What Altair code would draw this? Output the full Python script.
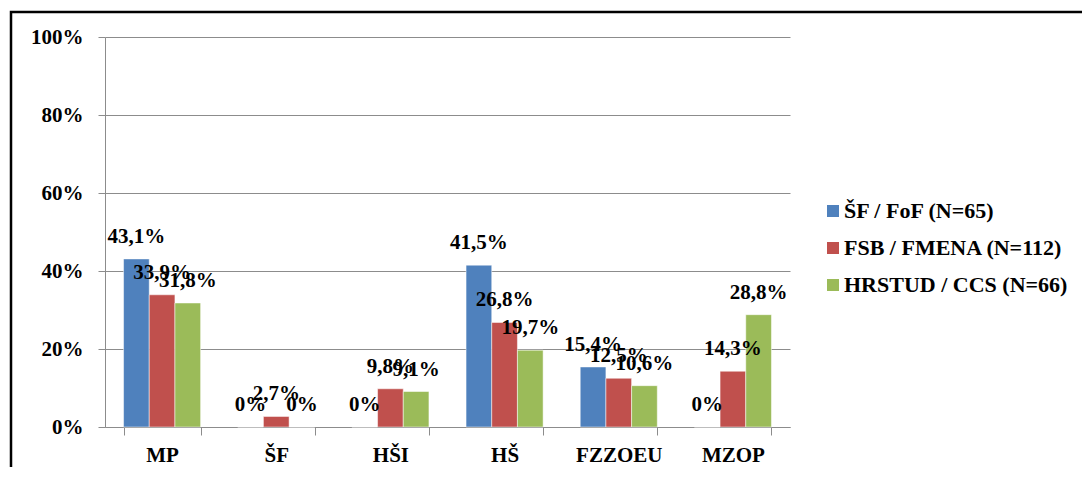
import altair as alt
import pandas as pd

categories = ["MP", "ŠF", "HŠI", "HŠ", "FZZOEU", "MZOP"]
series = ["ŠF / FoF (N=65)", "FSB / FMENA (N=112)", "HRSTUD / CCS (N=66)"]
sf_fof = [43.1, 0, 0, 41.5, 15.4, 0]
fsb_fmena = [33.9, 2.7, 9.8, 26.8, 12.5, 14.3]
hrstud_ccs = [31.8, 0, 9.1, 19.7, 10.6, 28.8]
colors = ["#4F81BD", "#C0504D", "#9BBB59"]
y_ticks = [0, 20, 40, 60, 80, 100]

rows = []
for s, vals in zip(series, [sf_fof, fsb_fmena, hrstud_ccs]):
    for c, v in zip(categories, vals):
        lab = "0%" if v == 0 else f"{v:.1f}".replace(".", ",") + "%"
        rows.append({"cat": c, "series": s, "value": v, "label": lab})
df = pd.DataFrame(rows)

FONT = "Liberation Serif"

x_enc = alt.X("cat:N", sort=categories, title=None,
              scale=alt.Scale(paddingInner=0.325, paddingOuter=0.1625),
              axis=alt.Axis(labelAngle=0, tickBand="extent", labelFont=FONT,
                            labelFontSize=21, labelFontWeight="bold", labelColor="black",
                            labelPadding=9, tickSize=8, tickColor="#8C8C8C",
                            domainColor="#8C8C8C", grid=False))
xoff = alt.XOffset("series:N", sort=series, scale=alt.Scale(paddingInner=0, paddingOuter=0))
y_enc = alt.Y("value:Q", title=None,
              scale=alt.Scale(domain=[0, 100], nice=False),
              axis=alt.Axis(values=y_ticks, labelExpr="datum.value + '%'", labelFont=FONT,
                            labelFontSize=21, labelFontWeight="bold", labelColor="black",
                            labelPadding=15, tickSize=7, tickColor="#8C8C8C",
                            domainColor="#8C8C8C", gridColor="#8C8C8C", gridWidth=1))

base = alt.Chart(df)

bars = base.mark_bar(stroke="white", strokeWidth=0.5).encode(
    x=x_enc, xOffset=xoff, y=y_enc,
    color=alt.Color("series:N", sort=series, title=None,
                    scale=alt.Scale(domain=series, range=colors),
                    legend=alt.Legend(orient="none", legendX=717, legendY=163,
                                      symbolType="square", symbolSize=144,
                                      symbolStrokeWidth=0, labelFont=FONT,
                                      labelFontSize=22, labelFontWeight="bold",
                                      labelColor="black", rowPadding=15,
                                      labelLimit=400, labelOffset=0)),
)

labels = base.mark_text(font=FONT, fontSize=21, fontWeight="bold", color="black",
                        baseline="middle", dy=-22).encode(
    x=alt.X("cat:N", sort=categories), xOffset=alt.XOffset("series:N", sort=series),
    y=alt.Y("value:Q"), text="label:N",
)

border = alt.Chart(alt.Data(values=[{}])).mark_rect(
    fill=None, stroke="black", strokeWidth=2.5, clip=False
).encode(x=alt.value(-94), x2=alt.value(1100), y=alt.value(-25), y2=alt.value(480))

chart = alt.layer(bars, labels, border).properties(
    width=685, height=390,
    autosize=alt.AutoSizeParams(type="none"),
    padding={"left": 97, "top": 29, "right": 292, "bottom": 40},
).configure_view(stroke=None)

chart.save("out.html", embed_options={"renderer": "svg", "actions": False})
